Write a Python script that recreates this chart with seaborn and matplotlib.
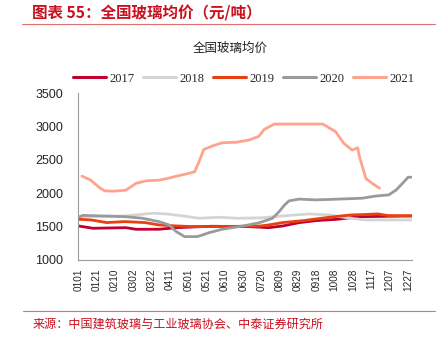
import matplotlib
matplotlib.use("Agg")
import matplotlib.pyplot as plt
import seaborn as sns
import pandas as pd
import numpy as np
from matplotlib.lines import Line2D

sns.set_style("white")
plt.rcParams['font.family'] = ['Liberation Sans', 'Noto Sans CJK SC', 'DejaVu Sans']

years = ["2017", "2018", "2019", "2020", "2021"]
colors = ["#C00030", "#D4D4D4", "#E84010", "#9A9A9A", "#FFA38C"]

dates_2017 = ["0101", "0117", "0222", "0305", "0330", "0418", "0526", "0706", "0728", "0812", "0830", "0917", "1010", "1104", "1231"]
vals_2017 = [1510, 1475, 1484, 1460, 1460, 1484, 1505, 1500, 1484, 1509, 1559, 1589, 1609, 1648, 1660]

dates_2018 = ["0101", "0106", "0222", "0323", "0407", "0425", "0513", "0604", "0624", "0718", "0728", "0812", "0910", "1002", "1025", "1111", "1231"]
vals_2018 = [1625, 1650, 1660, 1700, 1690, 1660, 1625, 1640, 1625, 1630, 1640, 1660, 1690, 1675, 1625, 1600, 1600]

dates_2019 = ["0101", "0115", "0201", "0221", "0315", "0330", "0418", "0506", "0526", "0718", "0728", "0812", "0904", "1002", "1026", "1108", "1124", "1205", "1231"]
vals_2019 = [1610, 1600, 1560, 1575, 1560, 1525, 1510, 1500, 1500, 1508, 1525, 1560, 1590, 1640, 1675, 1680, 1690, 1665, 1660]

dates_2020 = ["0101", "0106", "0222", "0312", "0330", "0410", "0418", "0427", "0511", "0524", "0607", "0630", "0717", "0801", "0808", "0814", "0819", "0830", "0917", "1005", "1107", "1122", "1206", "1214", "1221", "1227", "1231"]
vals_2020 = [1640, 1668, 1648, 1625, 1575, 1525, 1425, 1350, 1350, 1410, 1460, 1510, 1555, 1625, 1720, 1820, 1885, 1912, 1900, 1908, 1925, 1958, 1975, 2048, 2148, 2238, 2240]

dates_2021 = ["0105", "0114", "0125", "0130", "0208", "0222", "0305", "0316", "0330", "0410", "0418", "0428", "0508", "0512", "0518", "0527", "0607", "0622", "0706", "0717", "0723", "0803", "0830", "0925", "1009", "1018", "1027", "1102", "1104", "1111", "1118", "1126"]
vals_2021 = [2255, 2200, 2075, 2035, 2030, 2045, 2148, 2185, 2195, 2225, 2255, 2285, 2320, 2445, 2655, 2705, 2755, 2762, 2795, 2850, 2955, 3035, 3035, 3035, 2920, 2745, 2645, 2680, 2545, 2220, 2145, 2075]

tick_labels = ["0101", "0121", "0210", "0302", "0322", "0411", "0501", "0521", "0610", "0630",
               "0720", "0809", "0829", "0918", "1008", "1028", "1117", "1207", "1227"]

def doy(s):
    return pd.Timestamp("2021-" + s[:2] + "-" + s[2:]).dayofyear - 1

series = {"2017": (dates_2017, vals_2017), "2018": (dates_2018, vals_2018),
          "2019": (dates_2019, vals_2019), "2020": (dates_2020, vals_2020),
          "2021": (dates_2021, vals_2021)}
rows = []
for y in years:
    d, v = series[y]
    for di, vi in zip(d, v):
        rows.append({"day": doy(di), "price": vi, "year": y})
df = pd.DataFrame(rows)

fig = plt.figure(figsize=(4.43, 3.41), dpi=100)
ax = fig.add_axes([78.3/443, 1-260/341, (411.7-78.3)/443, (260-93)/341])

sns.lineplot(data=df, x="day", y="price", hue="year", hue_order=years,
             palette=dict(zip(years, colors)), linewidth=2.0, estimator=None,
             sort=True, ax=ax, legend=False)

ax.set_xlim(0, 364)
ax.set_ylim(1000, 3500)
ax.set_yticks([1000, 1500, 2000, 2500, 3000, 3500])
ax.set_xticks([doy(t) for t in tick_labels])
ax.set_xticklabels(tick_labels, rotation=90, fontsize=7.2)
ax.tick_params(axis='y', labelsize=9, length=3, color="#9A9A9A", width=0.8, pad=8)
ax.tick_params(axis='x', length=3, color="#9A9A9A", width=0.8, pad=3)
ax.set_xlabel("")
ax.set_ylabel("")
for s in ["top", "right"]:
    ax.spines[s].set_visible(False)
for s in ["left", "bottom"]:
    ax.spines[s].set_color("#9A9A9A")
    ax.spines[s].set_linewidth(0.8)
ax.grid(False)

handles = [Line2D([0], [0], color=c, lw=2.2) for c in colors]
fig.legend(handles, years, loc="center", bbox_to_anchor=(244/443, 1-78.7/341),
           ncol=5, frameon=False, handlelength=2.6, handletextpad=0.3,
           columnspacing=0.7, prop={"family": "Liberation Serif", "size": 9})

red = "#C8101E"
fig.text(32/443, 1-13/341, "图表 55：全国玻璃均价（元/吨）", color=red, fontsize=11.2,
         fontweight="bold", ha="left", va="center", style="italic",
         family=["Noto Sans CJK SC", "DejaVu Sans"])
fig.add_artist(Line2D([22/443, 435/443], [1-24/341, 1-24/341], color="#E07070", lw=0.8))
fig.text(230/443, 1-48/341, "全国玻璃均价", color="#222222", fontsize=9,
         ha="center", va="center", family=["Noto Sans CJK SC", "DejaVu Sans"])
fig.add_artist(Line2D([23/443, 435/443], [1-311/341, 1-311/341], color="#E07070", lw=0.8))
fig.text(33/443, 1-324/341, "来源：中国建筑玻璃与工业玻璃协会、中泰证券研究所", color=red,
         fontsize=8.7, ha="left", va="center", family=["Noto Sans CJK SC", "DejaVu Sans"])

fig.savefig("out.png", dpi=100)
